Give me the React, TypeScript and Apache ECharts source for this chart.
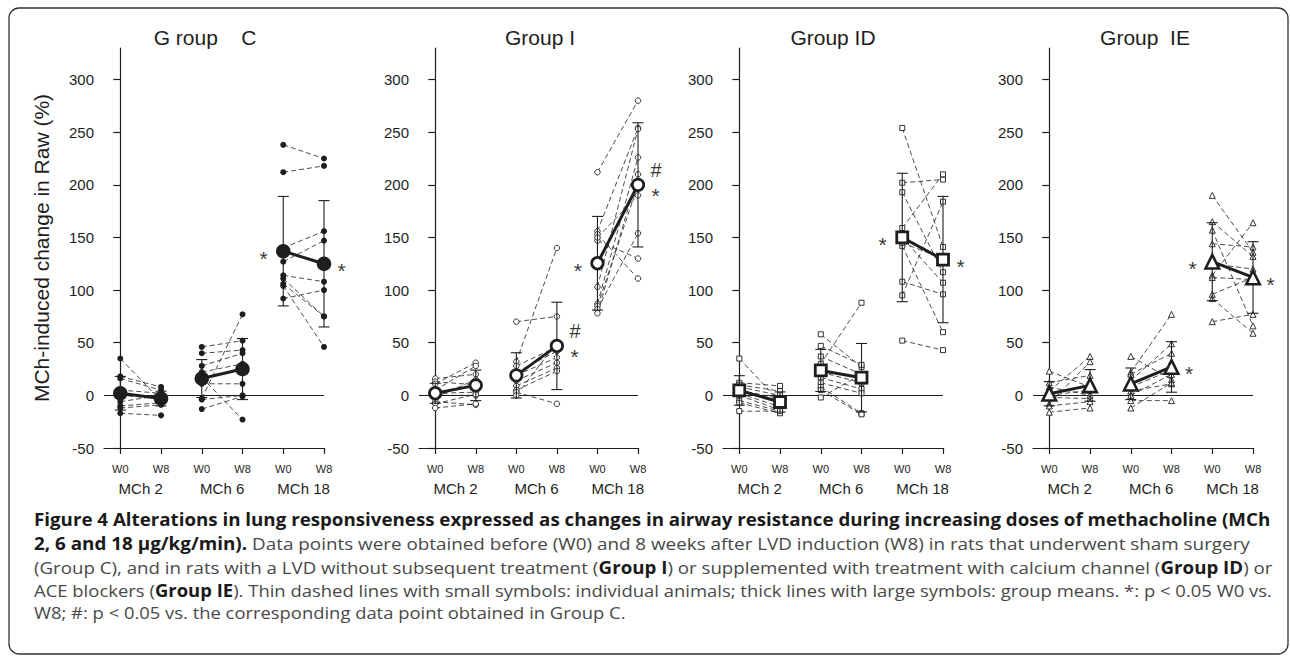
import React, { useEffect, useRef } from 'react';
import * as echarts from 'echarts';

// ---------- texts ----------
const groupTitles = ['G roup    C', 'Group I', 'Group ID', 'Group  IE'];
const timeLabels = ['W0', 'W8', 'W0', 'W8', 'W0', 'W8'];
const doseLabels = ['MCh 2', 'MCh 6', 'MCh 18'];
const yTicks = [-50, 0, 50, 100, 150, 200, 250, 300];
const yName = 'MCh-induced change in Raw (%)';

// ---------- individual animals (W0 / W8 per dose) ----------
const C2W0 = [35, 18, 16, 5, 0, -6, -10, -12, -17];
const C2W8 = [-5, 8, 5, 2, -3, 0, -7, -9, -19];
const C6W0 = [46, 40, 28, 22, 17, 11, -3, -4, -13];
const C6W8 = [52, 43, 40, 30, -23, 11, 77, 0, -1];
const C18W0 = [238, 212, 140, 127, 114, 111, 106, 104, 92];
const C18W8 = [225, 218, 156, 147, 108, 75, 75, 46, 100];

const I2W0 = [16, 13, 11, 5, 2, 0, -2, -6, -8, -12];
const I2W8 = [20, 10, 31, 28, 3, 0, 15, -9, 1, -8];
const I6W0 = [70, 32, 28, 22, 19, 14, 9, 5, 3, 0];
const I6W8 = [75, 140, 46, 42, 36, 31, 26, 23, -8, 50];
const I18W0 = [212, 156, 153, 147, 103, 87, 85, 82, 78, 150];
const I18W8 = [280, 254, 111, 130, 253, 226, 200, 154, 210, 190];

const D2W0 = [35, 12, 10, 8, 5, 2, 0, -5, -7, -15];
const D2W8 = [-6, 9, 4, 0, -3, -11, -14, -15, -17, -15];
const D6W0 = [58, 47, 37, 30, 22, 17, 12, 8, 5, -2];
const D6W8 = [27, 29, 20, 88, 12, 6, 2, -17, -18, 20];
const D18W0 = [254, 202, 193, 159, 150, 142, 108, 95, 52, 145];
const D18W8 = [141, 205, 117, 210, 107, 60, 96, 184, 43, 130];

const E2W0 = [23, 12, 8, 4, 0, -2, -8, -10, -16];
const E2W8 = [8, 19, 0, 37, 5, -3, 32, -6, -12];
const E6W0 = [37, 22, 20, 14, 8, 4, 0, -5, -12];
const E6W8 = [15, 77, 40, 49, 24, 11, 20, -5, 12];
const E18W0 = [190, 165, 157, 144, 114, 112, 96, 92, 70, 125];
const E18W8 = [136, 132, 66, 141, 164, 110, 112, 59, 77, 120];

// ---------- group means and SD (W0,W8 for MCh 2, 6, 18) ----------
const meanC = [2, -3, 16, 25, 137, 125];
const sdC = [16, 7, 18, 29, 52, 60];
const meanI = [2, 9.5, 19, 47, 125.5, 200];
const sdI = [9.5, 14.5, 21.5, 41.5, 44.5, 59];
const meanD = [4.7, -6.3, 23.7, 16.8, 150, 129];
const sdD = [14, 9.6, 20, 32.5, 61, 60];
const meanE = [1.6, 9.5, 11, 27, 127, 112];
const sdE = [11.5, 15, 15, 24, 37, 34];

// ---------- significance marks ----------
const annC = [{ col: 4, text: '*', kind: 'L' }, { col: 5, text: '*', kind: 'R' }];
const annI = [
  { col: 3, text: '#', kind: 'HR' }, { col: 3, text: '*', kind: 'SR' },
  { col: 4, text: '*', kind: 'L' },
  { col: 5, text: '#', kind: 'HR' }, { col: 5, text: '*', kind: 'SR' },
];
const annD = [{ col: 4, text: '*', kind: 'L' }, { col: 5, text: '*', kind: 'R' }];
const annE = [{ col: 3, text: '*', kind: 'R' }, { col: 4, text: '*', kind: 'L' }, { col: 5, text: '*', kind: 'R' }];

// ---------- caption ----------
const captionLines: { t: string; b: boolean }[][] = [
  [{ t: 'Figure 4 Alterations in lung responsiveness expressed as changes in airway resistance during increasing doses of methacholine (MCh', b: true }],
  [{ t: '2, 6 and 18 µg/kg/min).', b: true }, { t: ' Data points were obtained before (W0) and 8 weeks after LVD induction (W8) in rats that underwent sham surgery', b: false }],
  [{ t: '(Group C), and in rats with a LVD without subsequent treatment (', b: false }, { t: 'Group I', b: true }, { t: ') or supplemented with treatment with calcium channel (', b: false }, { t: 'Group ID', b: true }, { t: ') or', b: false }],
  [{ t: 'ACE blockers (', b: false }, { t: 'Group IE', b: true }, { t: '). Thin dashed lines with small symbols: individual animals; thick lines with large symbols: group means. *: p < 0.05 W0 vs.', b: false }],
  [{ t: 'W8; #: p < 0.05 vs. the corresponding data point obtained in Group C.', b: false }],
];

// ---------- layout / style (not data) ----------
const INK = '#1e1e1e';
const AX_FONT = "'Liberation Sans', Arial, sans-serif";
const CAP_FONT = "'Open Sans', 'Liberation Sans', sans-serif";
const CAP_SIZE = 17;
const panels = [
  { left: 104, width: 220, titleX: 205 },
  { left: 419, width: 219, titleX: 540 },
  { left: 723, width: 220, titleX: 833 },
  { left: 1033, width: 220, titleX: 1145 },
];
const captionLayout = { x: 34, ys: [519, 543, 567, 590, 612], ends: [1272, 1250, 1273, 1273, 626] };
const groupStyles = [
  { symbol: 'circle', small: 6, smallFill: INK, smallBorder: 0, big: 14.5, bigFill: INK, bigBorder: 0 },
  { symbol: 'circle', small: 5.5, smallFill: '#fff', smallBorder: 0.9, big: 11.5, bigFill: '#fff', bigBorder: 2.7 },
  { symbol: 'rect', small: 5, smallFill: '#fff', smallBorder: 0.9, big: 11, bigFill: '#fff', bigBorder: 2.8 },
  { symbol: 'triangle', small: 6, smallFill: '#fff', smallBorder: 0.9, big: 13.5, bigFill: '#fff', bigBorder: 2.6 },
];
const annotStyle: Record<string, any> = {
  L: { position: 'left', distance: 15, fontSize: 21, dy: 7 },
  R: { position: 'right', distance: 13, fontSize: 21, dy: 7 },
  HR: { position: 'right', distance: 12, fontSize: 20, dy: -15 },
  SR: { position: 'right', distance: 13, fontSize: 21, dy: 10.5 },
};

const groups = [
  { indiv: [[C2W0, C2W8], [C6W0, C6W8], [C18W0, C18W8]], mean: meanC, sd: sdC, ann: annC },
  { indiv: [[I2W0, I2W8], [I6W0, I6W8], [I18W0, I18W8]], mean: meanI, sd: sdI, ann: annI },
  { indiv: [[D2W0, D2W8], [D6W0, D6W8], [D18W0, D18W8]], mean: meanD, sd: sdD, ann: annD },
  { indiv: [[E2W0, E2W8], [E6W0, E6W8], [E18W0, E18W8]], mean: meanE, sd: sdE, ann: annE },
];

function buildOption() {
  const grid: any[] = [];
  const xAxis: any[] = [];
  const yAxis: any[] = [];
  const series: any[] = [];
  const axisLineStyle = { color: INK, width: 1.2 };

  groups.forEach((g, p) => {
    const st = groupStyles[p];
    const pl = panels[p];
    grid.push({ left: pl.left, width: pl.width, top: 48, height: 400, containLabel: false });
    xAxis.push({
      type: 'value', gridIndex: p, min: -0.4, max: 5, position: 'bottom',
      axisLine: { show: true, onZero: false, lineStyle: axisLineStyle },
      axisTick: { show: true, length: 6, customValues: [0, 1, 2, 3, 4, 5], lineStyle: axisLineStyle },
      axisLabel: {
        customValues: [0, 1, 2, 3, 4, 5], margin: 15, fontSize: 11, fontFamily: AX_FONT, color: INK,
        formatter: (v: number) => timeLabels[Math.round(v)] || '',
      },
      splitLine: { show: false },
    });
    xAxis.push({
      type: 'value', gridIndex: p, min: -0.4, max: 5, position: 'bottom',
      axisLine: { show: false, onZero: false }, axisTick: { show: false }, splitLine: { show: false },
      axisLabel: {
        customValues: [0.5, 2.5, 4.5], margin: 33, fontSize: 15, fontFamily: AX_FONT, color: INK,
        formatter: (v: number) => doseLabels[Math.round((v - 0.5) / 2)] || '',
      },
    });
    yAxis.push({
      type: 'value', gridIndex: p, min: -50, max: 330,
      axisLine: { show: true, lineStyle: axisLineStyle },
      axisTick: { show: true, length: 7, customValues: yTicks, lineStyle: axisLineStyle },
      axisLabel: { customValues: yTicks, margin: 10, fontSize: 15, fontFamily: AX_FONT, color: INK },
      splitLine: { show: false },
      name: p === 0 ? yName : '', nameLocation: 'middle', nameGap: 52,
      nameTextStyle: { fontSize: 21, fontFamily: AX_FONT, color: INK },
    });
    const xi = 2 * p;

    // individual animals
    g.indiv.forEach((pair, d) => {
      const [w0, w8] = pair;
      w0.forEach((v, i) => {
        series.push({
          type: 'line', xAxisIndex: xi, yAxisIndex: p, silent: true, z: 2,
          data: [[2 * d, v], [2 * d + 1, w8[i]]],
          symbol: st.symbol, symbolSize: st.small, showSymbol: true,
          itemStyle: { color: st.smallFill, borderColor: INK, borderWidth: st.smallBorder },
          lineStyle: { color: INK, width: 0.8, type: [5, 3] },
        });
      });
    });

    // error bars
    series.push({
      type: 'custom', xAxisIndex: xi, yAxisIndex: p, silent: true, z: 3,
      data: g.mean.map((m, k) => [k, m, g.sd[k]]),
      encode: { x: 0, y: 1 },
      renderItem: (params: any, api: any) => {
        const x = api.value(0), m = api.value(1), s = api.value(2);
        const top = api.coord([x, m + s]);
        const bot = api.coord([x, m - s]);
        const hw = 5.5;
        const style = { stroke: INK, lineWidth: 1.1 };
        return {
          type: 'group',
          children: [
            { type: 'line', shape: { x1: top[0], y1: top[1], x2: bot[0], y2: bot[1] }, style },
            { type: 'line', shape: { x1: top[0] - hw, y1: top[1], x2: top[0] + hw, y2: top[1] }, style },
            { type: 'line', shape: { x1: bot[0] - hw, y1: bot[1], x2: bot[0] + hw, y2: bot[1] }, style },
          ],
        };
      },
    });

    // means
    [0, 1, 2].forEach((d) => {
      const s: any = {
        type: 'line', xAxisIndex: xi, yAxisIndex: p, silent: true, z: 5,
        data: [[2 * d, g.mean[2 * d]], [2 * d + 1, g.mean[2 * d + 1]]],
        symbol: st.symbol, symbolSize: st.big, showSymbol: true,
        itemStyle: { color: st.bigFill, borderColor: INK, borderWidth: st.bigBorder },
        lineStyle: { color: INK, width: 3 },
      };
      if (d === 0) {
        s.markLine = {
          silent: true, symbol: ['none', 'none'], label: { show: false }, z: 1,
          lineStyle: { color: INK, width: 1, type: 'solid' },
          data: [{ yAxis: 0 }],
        };
      }
      series.push(s);
    });

    // significance marks
    series.push({
      type: 'scatter', xAxisIndex: xi, yAxisIndex: p, silent: true, z: 6,
      symbolSize: 1, itemStyle: { color: 'rgba(0,0,0,0)' },
      data: g.ann.map((a) => {
        const as = annotStyle[a.kind];
        return {
          value: [a.col, g.mean[a.col]],
          label: {
            show: true, formatter: a.text, position: as.position, distance: as.distance,
            offset: [0, as.dy], fontSize: as.fontSize, fontFamily: AX_FONT, color: '#000000',
            fontWeight: 'normal', textBorderWidth: 0,
          },
        };
      }),
    });
  });

  // caption, fitted to the reference line widths
  const ctx = document.createElement('canvas').getContext('2d')!;
  const measure = (segs: { t: string; b: boolean }[]) =>
    segs.reduce((acc, s) => {
      ctx.font = `${s.b ? 'bold ' : ''}${CAP_SIZE}px ${CAP_FONT}`;
      return acc + ctx.measureText(s.t).width;
    }, 0);
  const captionGraphics = captionLines.map((segs, i) => {
    const w = measure(segs);
    const target = captionLayout.ends[i] - captionLayout.x;
    return {
      type: 'text', x: captionLayout.x, y: captionLayout.ys[i], scaleX: target / w, silent: true,
      style: {
        text: segs.map((s) => `{${s.b ? 'b' : 'n'}|${s.t}}`).join(''),
        rich: {
          b: { fontWeight: 'bold', fontSize: CAP_SIZE, fontFamily: CAP_FONT, fill: '#1a1a1a' },
          n: { fontWeight: 'normal', fontSize: CAP_SIZE, fontFamily: CAP_FONT, fill: '#484848' },
        },
        fontSize: CAP_SIZE, fontFamily: CAP_FONT,
        align: 'left', verticalAlign: 'middle',
      },
    };
  });

  const titleGraphics = groupTitles.map((t, i) => ({
    type: 'text', x: panels[i].titleX, y: 37, silent: true,
    style: { text: t, fontSize: 21, fontFamily: AX_FONT, fill: INK, align: 'center', verticalAlign: 'middle' },
  }));

  return {
    animation: false,
    backgroundColor: '#ffffff',
    grid, xAxis, yAxis, series,
    graphic: [
      {
        type: 'rect', silent: true, z: -10,
        shape: { x: 9, y: 8, width: 1279, height: 646, r: 10 },
        style: { fill: 'none', stroke: '#333333', lineWidth: 1.3 },
      },
      ...titleGraphics,
      ...captionGraphics,
    ],
  };
}

export default function App() {
  const ref = useRef<HTMLDivElement>(null);
  useEffect(() => {
    document.body.style.margin = '0';
    const chart = echarts.init(ref.current!, null, { renderer: 'svg' });
    chart.setOption(buildOption() as any);
    return () => chart.dispose();
  }, []);
  return <div ref={ref} style={{ width: 1290, height: 657 }} />;
}
